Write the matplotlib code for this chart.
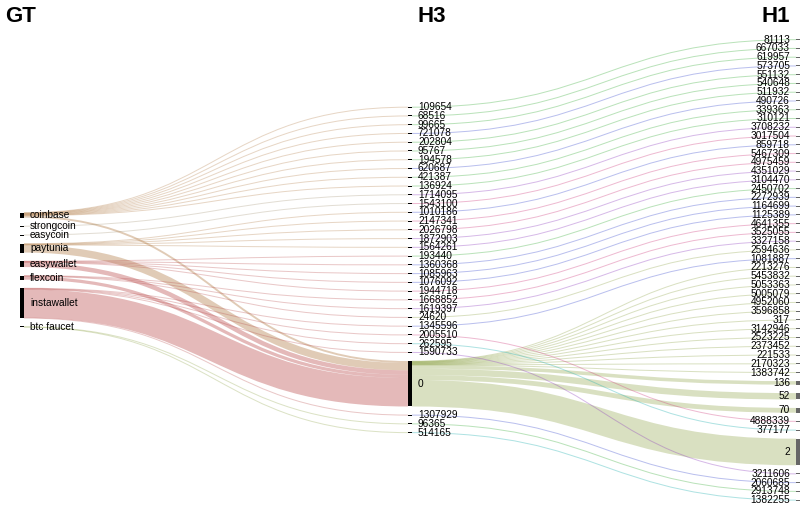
import matplotlib
matplotlib.use("Agg")
import matplotlib.pyplot as plt
from matplotlib.path import Path
from matplotlib.patches import PathPatch, Rectangle

# ---------------- data ----------------
column_titles = ["GT", "H3", "H1"]

gt_nodes = ["coinbase", "strongcoin", "easycoin", "paytunia", "easywallet",
            "flexcoin", "instawallet", "btc faucet"]

h3_nodes = ["109654", "68516", "99665", "721078", "202804", "95767", "194578",
            "620687", "421387", "136924", "1714095", "1543100", "1010186",
            "2147341", "2026798", "1872903", "1564261", "193440", "1360368",
            "1085963", "1076092", "1944718", "1668852", "1619397", "24620",
            "1345596", "2005510", "262595", "1590733", "0", "1307929",
            "96365", "514165"]

h1_nodes = ["81113", "667033", "619957", "573705", "551132", "540648", "511932",
            "490726", "339363", "310121", "3708232", "3017504", "859718",
            "5467309", "4975459", "4351029", "3104470", "2450702", "2272939",
            "1164699", "1125389", "4641355", "3525055", "3327158", "2594636",
            "1081887", "2213276", "5453832", "5053363", "5005079", "4952060",
            "3596858", "317", "3142946", "2523225", "2373452", "221533",
            "2170323", "1383742", "136", "52", "70", "4888339", "377177", "2",
            "3211606", "2060685", "2913748", "1382255"]

# GT -> H3 flows
gt_h3_source = (["coinbase"] * 11 + ["strongcoin", "easycoin"] + ["paytunia"] * 6
                + ["easywallet"] * 6 + ["flexcoin"] * 4 + ["instawallet"] * 6
                + ["btc faucet"] * 2)
gt_h3_target = ["109654", "68516", "99665", "721078", "202804", "95767", "194578",
                "620687", "421387", "136924", "0",
                "1714095", "1543100",
                "1010186", "2147341", "2026798", "1872903", "1564261", "0",
                "193440", "1360368", "1085963", "1076092", "1944718", "0",
                "1668852", "1619397", "24620", "0",
                "1345596", "2005510", "262595", "1590733", "0", "1307929",
                "96365", "514165"]
gt_h3_value = [1] * 10 + [6] + [1, 1] + [1] * 5 + [23] + [1] * 5 + [14] \
    + [1] * 3 + [10] + [1] * 4 + [89, 1] + [1, 1]

# H3 -> H1 flows
h3_h1_source = (h3_nodes[:26] + ["0"] * 17
                + ["2005510", "262595", "1590733", "1307929", "96365", "514165"])
h3_h1_target = (h1_nodes[:26] + h1_nodes[26:39] + ["136", "52", "70", "2"]
                + ["4888339", "377177", "3211606", "2060685", "2913748", "1382255"])
h3_h1_value = [1] * 26 + [1] * 13 + [11, 20, 15, 83] + [1] * 6

# link colours (by source node)
gt_link_colors = {"coinbase": "#b07840", "strongcoin": "#a09070",
                  "easycoin": "#a09070", "paytunia": "#b07840",
                  "easywallet": "#b84848", "flexcoin": "#b84848",
                  "instawallet": "#b84848", "btc faucet": "#8aa040"}
h3_link_colors = ["green", "green", "green", "blue", "green", "green", "green",
                  "blue", "green", "green", "purple", "pink", "blue", "pink",
                  "pink", "purple", "purple", "green", "blue", "blue", "blue",
                  "pink", "pink", "purple", "olive", "blue", "pink", "cyan",
                  "purple", "olive", "blue", "green", "cyan"]
palette = {"green": "#40b040", "blue": "#4050d0", "purple": "#9040c0",
           "pink": "#d04080", "cyan": "#20b0b0", "olive": "#8aa040"}

# ---------------- layout (sankey) ----------------
W, H = 804, 508
DPI = 100
col_x = [20, 408, 796]
node_w = 4
pad = 8.44
y_top, y_bot = 39.5, 500.3
y_mid = (y_top + y_bot) / 2

columns = [gt_nodes, h3_nodes, h1_nodes]
links = []
for s, t, v in zip(gt_h3_source, gt_h3_target, gt_h3_value):
    links.append({"s": (0, s), "t": (1, t), "v": v, "c": gt_link_colors[s],
                  "a": 0.38 if v > 3 else 0.3})
h3_col_map = dict(zip(h3_nodes, h3_link_colors))
for s, t, v in zip(h3_h1_source, h3_h1_target, h3_h1_value):
    cname = h3_col_map[s]
    links.append({"s": (1, s), "t": (2, t), "v": v, "c": palette[cname],
                  "a": 0.32 if cname == "olive" else 0.36})

nodes = {}
for ci, col in enumerate(columns):
    for name in col:
        nodes[(ci, name)] = {"in": [], "out": [], "col": ci, "name": name}
for L in links:
    nodes[L["s"]]["out"].append(L)
    nodes[L["t"]]["in"].append(L)
for n in nodes.values():
    n["value"] = max(sum(l["v"] for l in n["in"]), sum(l["v"] for l in n["out"]))

ky = min((y_bot - y_top - (len(col) - 1) * pad) /
         sum(nodes[(ci, n)]["value"] for n in col)
         for ci, col in enumerate(columns))

for ci, col in enumerate(columns):
    total = sum(nodes[(ci, n)]["value"] * ky for n in col) + (len(col) - 1) * pad
    y = y_mid - total / 2
    for name in col:
        nd = nodes[(ci, name)]
        nd["y0"] = y
        nd["y1"] = y + nd["value"] * ky
        nd["x0"] = col_x[ci]
        nd["x1"] = col_x[ci] + node_w
        y = nd["y1"] + pad

for nd in nodes.values():
    nd["out"].sort(key=lambda l: nodes[l["t"]]["y0"])
    nd["in"].sort(key=lambda l: nodes[l["s"]]["y0"])
    y = nd["y0"]
    for l in nd["out"]:
        w = l["v"] * ky
        l["sy"] = y + w / 2
        y += w
    y = nd["y0"]
    for l in nd["in"]:
        w = l["v"] * ky
        l["ty"] = y + w / 2
        y += w

# ---------------- drawing ----------------
plt.rcParams["font.family"] = ["Liberation Sans", "DejaVu Sans"]
fig = plt.figure(figsize=(W / DPI, H / DPI), dpi=DPI)
ax = fig.add_axes([0, 0, 1, 1])
ax.set_xlim(0, W)
ax.set_ylim(H, 0)
ax.axis("off")

px2pt = 72.0 / DPI
for l in links:
    s, t = nodes[l["s"]], nodes[l["t"]]
    x0, x1 = s["x1"], t["x0"]
    xm = (x0 + x1) / 2
    path = Path([(x0, l["sy"]), (xm, l["sy"]), (xm, l["ty"]), (x1, l["ty"])],
                [Path.MOVETO, Path.CURVE4, Path.CURVE4, Path.CURVE4])
    width_px = max(1.0, l["v"] * ky)
    ax.add_patch(PathPatch(path, fill=False, edgecolor=l["c"], alpha=l["a"],
                           lw=width_px * px2pt, capstyle="butt", zorder=1))

for (ci, name), nd in nodes.items():
    h = max(nd["y1"] - nd["y0"], 1.0)
    yc = (nd["y0"] + nd["y1"]) / 2
    color = "#000000" if ci < 2 else "#666666"
    ax.add_patch(Rectangle((nd["x0"], yc - h / 2), node_w, h, facecolor=color,
                           edgecolor="none", zorder=2))
    if ci < 2:
        ax.text(nd["x1"] + 6, yc, name, ha="left", va="center", fontsize=7.3,
                color="#000000", zorder=3)
    else:
        ax.text(nd["x0"] - 6, yc, name, ha="right", va="center", fontsize=7.3,
                color="#000000", zorder=3)

title_x = [5, col_x[1] + node_w + 6, col_x[2] - 6]
title_ha = ["left", "left", "right"]
for t, x, ha in zip(column_titles, title_x, title_ha):
    ax.text(x, 17, t, ha=ha, va="center", fontsize=16, fontweight="bold",
            color="#000000")

fig.savefig("out.png", dpi=DPI)
